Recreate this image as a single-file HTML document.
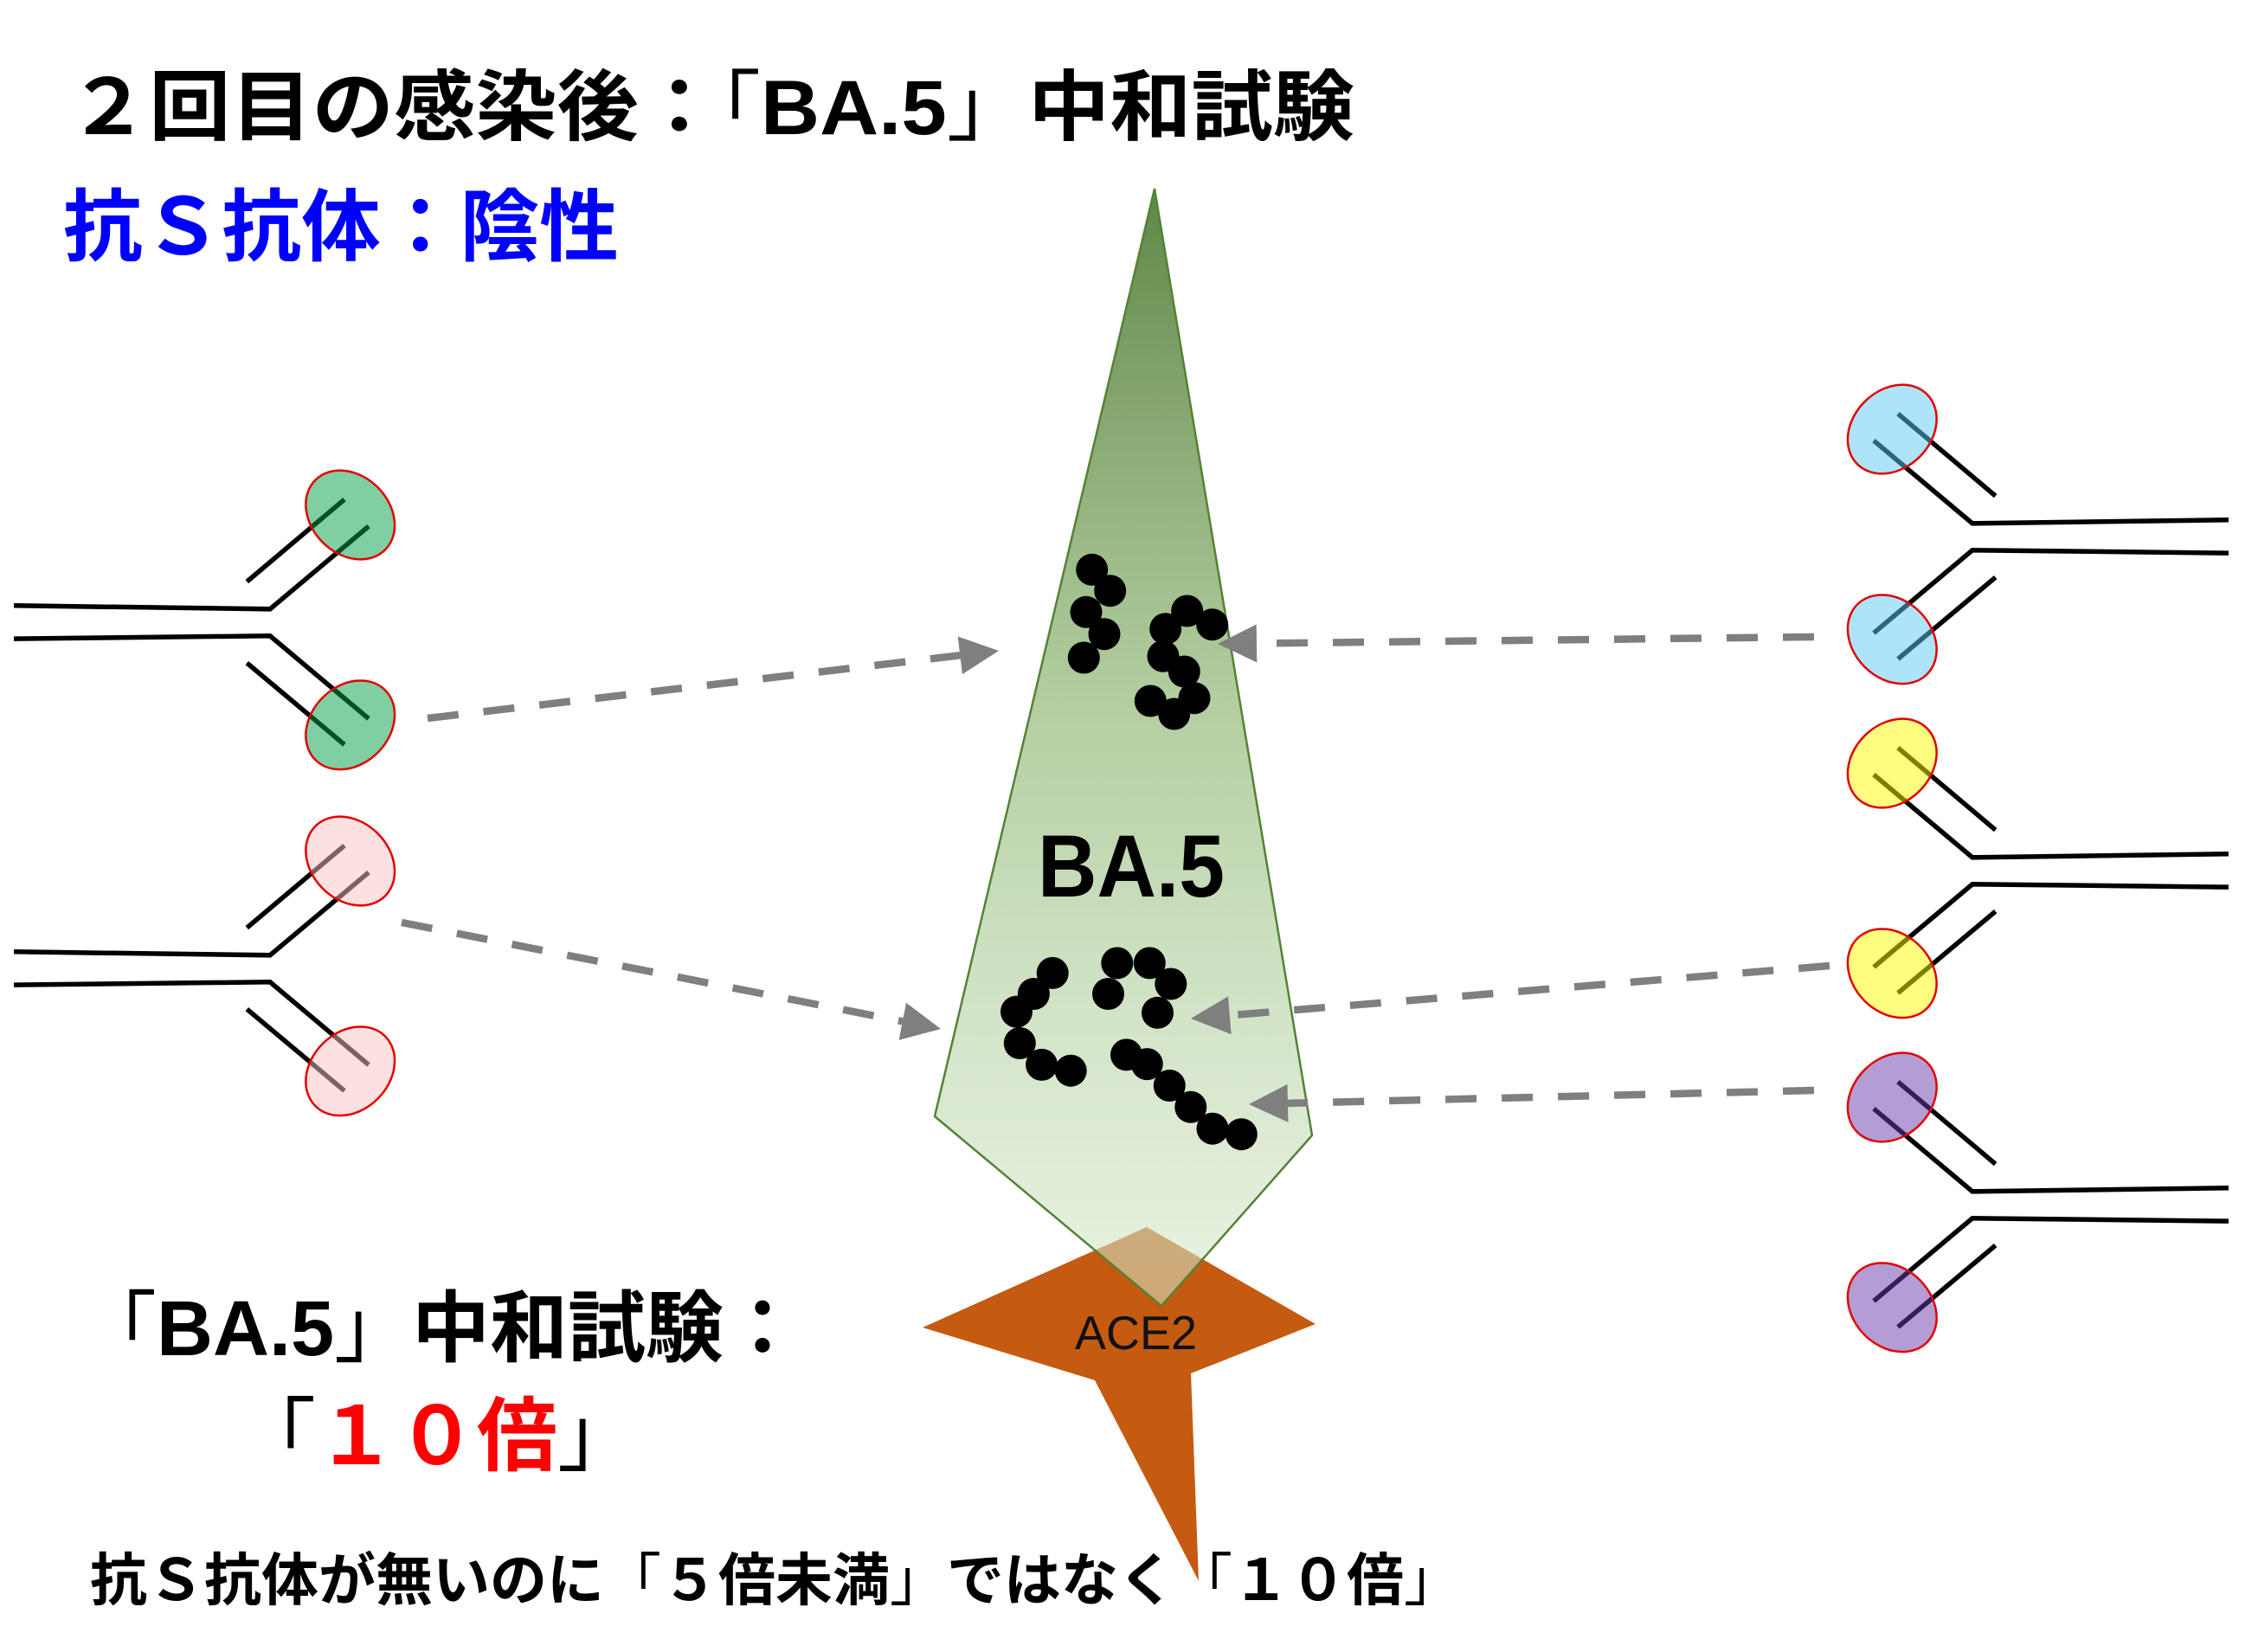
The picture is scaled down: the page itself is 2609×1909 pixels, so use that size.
<!DOCTYPE html>
<html>
<head>
<meta charset="utf-8">
<style>
html,body{margin:0;padding:0;background:#fff;}
svg{display:block;}
</style>
</head>
<body>
<svg width="2609" height="1909" viewBox="0 0 2609 1909" xmlns="http://www.w3.org/2000/svg">
<defs>
<linearGradient id="kg" gradientUnits="userSpaceOnUse" x1="0" y1="218" x2="0" y2="1509">
<stop offset="0" stop-color="#5f8748" stop-opacity="1"/>
<stop offset="0.45" stop-color="#a9c794" stop-opacity="0.9"/>
<stop offset="1" stop-color="#d6e8ca" stop-opacity="0.55"/>
</linearGradient>
</defs>
<rect width="2609" height="1909" fill="#fff"/>

<!-- Titles -->
<text x="78" y="155" font-family="'Liberation Sans','Noto Sans CJK JP',sans-serif" font-weight="bold" font-size="89" fill="#000" textLength="1487" lengthAdjust="spacingAndGlyphs">２回目の感染後：<tspan font-weight="normal">「</tspan>BA.5<tspan font-weight="normal">」</tspan>中和試験</text>
<text x="73" y="294" font-family="'Liberation Sans','Noto Sans CJK JP',sans-serif" font-weight="bold" font-size="91" fill="#0000ff" textLength="642" lengthAdjust="spacingAndGlyphs">抗Ｓ抗体：陰性</text>

<!-- Left antibodies -->
<g stroke="#000" stroke-width="5.5" fill="none" stroke-linejoin="miter">
<g transform="translate(0,595)">
<polyline points="16,104.8 312,108.8 426,13.1"/>
<line x1="398" y1="-17.9" x2="285.3" y2="77.1"/>
<polyline points="16,143.1 312,139.8 426,235.5"/>
<line x1="398" y1="265.5" x2="285.3" y2="171.1"/>
</g>
<g transform="translate(0,995)">
<polyline points="16,104.8 312,108.8 426,13.1"/>
<line x1="398" y1="-17.9" x2="285.3" y2="77.1"/>
<polyline points="16,143.1 312,139.8 426,235.5"/>
<line x1="398" y1="265.5" x2="285.3" y2="171.1"/>
</g>
</g>
<g stroke="#e30000" stroke-width="2.5">
<ellipse cx="0" cy="0" rx="57" ry="45" transform="translate(404.7,595) rotate(45)" fill="#00a048" fill-opacity="0.5"/>
<ellipse cx="0" cy="0" rx="57" ry="45" transform="translate(404.7,837.8) rotate(-45)" fill="#00a048" fill-opacity="0.5"/>
<ellipse cx="0" cy="0" rx="57" ry="45" transform="translate(404.7,995) rotate(45)" fill="#fbc1c1" fill-opacity="0.5"/>
<ellipse cx="0" cy="0" rx="57" ry="45" transform="translate(404.7,1237.8) rotate(-45)" fill="#fbc1c1" fill-opacity="0.5"/>
</g>

<!-- Right antibodies -->
<g stroke="#000" stroke-width="5.5" fill="none" stroke-linejoin="miter">
<g transform="translate(0,496)">
<polyline points="2575,104.8 2279,108.8 2165,13.1"/>
<line x1="2193" y1="-17.9" x2="2305.7" y2="77.1"/>
<polyline points="2575,143.1 2279,139.8 2165,235.5"/>
<line x1="2193" y1="265.5" x2="2305.7" y2="171.1"/>
</g>
<g transform="translate(0,882)">
<polyline points="2575,104.8 2279,108.8 2165,13.1"/>
<line x1="2193" y1="-17.9" x2="2305.7" y2="77.1"/>
<polyline points="2575,143.1 2279,139.8 2165,235.5"/>
<line x1="2193" y1="265.5" x2="2305.7" y2="171.1"/>
</g>
<g transform="translate(0,1268)">
<polyline points="2575,104.8 2279,108.8 2165,13.1"/>
<line x1="2193" y1="-17.9" x2="2305.7" y2="77.1"/>
<polyline points="2575,143.1 2279,139.8 2165,235.5"/>
<line x1="2193" y1="265.5" x2="2305.7" y2="171.1"/>
</g>
</g>
<g stroke="#e30000" stroke-width="2.5">
<ellipse cx="0" cy="0" rx="57" ry="45" transform="translate(2186.3,496) rotate(-45)" fill="#5dc9f5" fill-opacity="0.5"/>
<ellipse cx="0" cy="0" rx="57" ry="45" transform="translate(2186.3,738.8) rotate(45)" fill="#5dc9f5" fill-opacity="0.5"/>
<ellipse cx="0" cy="0" rx="57" ry="45" transform="translate(2186.3,882) rotate(-45)" fill="#fdfc00" fill-opacity="0.5"/>
<ellipse cx="0" cy="0" rx="57" ry="45" transform="translate(2186.3,1124.8) rotate(45)" fill="#fdfc00" fill-opacity="0.5"/>
<ellipse cx="0" cy="0" rx="57" ry="45" transform="translate(2186.3,1268) rotate(-45)" fill="#6939a9" fill-opacity="0.5"/>
<ellipse cx="0" cy="0" rx="57" ry="45" transform="translate(2186.3,1510.8) rotate(45)" fill="#6939a9" fill-opacity="0.5"/>
</g>

<!-- ACE2 -->
<polygon points="1325,1418 1520,1530 1376,1587 1385,1827 1265,1595 1066,1534" fill="#c55a11"/>

<!-- Kite (BA.5) -->
<polygon points="1334,218 1516,1312 1342,1509 1080,1290" fill="url(#kg)" stroke="#548235" stroke-width="2.5" stroke-linejoin="miter"/>

<!-- Dots -->
<g fill="#000">
<circle cx="1261.7" cy="658.3" r="18.5"/>
<circle cx="1282.7" cy="682.7" r="18.5"/>
<circle cx="1255" cy="707.3" r="18.5"/>
<circle cx="1276" cy="732.7" r="18.5"/>
<circle cx="1252.3" cy="760" r="18.5"/>

<circle cx="1371.7" cy="706" r="18.5"/>
<circle cx="1400.7" cy="721.7" r="18.5"/>
<circle cx="1346.7" cy="726.7" r="18.5"/>
<circle cx="1344" cy="758.3" r="18.5"/>
<circle cx="1368.3" cy="776" r="18.5"/>
<circle cx="1380" cy="806.7" r="18.5"/>
<circle cx="1329.3" cy="810" r="18.5"/>
<circle cx="1356.7" cy="825" r="18.5"/>

<circle cx="1216.2" cy="1124.4" r="18.5"/>
<circle cx="1194.4" cy="1148.5" r="18.5"/>
<circle cx="1174.5" cy="1169.1" r="18.5"/>
<circle cx="1178.3" cy="1205.5" r="18.5"/>
<circle cx="1203.6" cy="1230.4" r="18.5"/>
<circle cx="1237.2" cy="1237.2" r="18.5"/>

<circle cx="1290.8" cy="1112.9" r="18.5"/>
<circle cx="1328.3" cy="1112.9" r="18.5"/>
<circle cx="1352.8" cy="1137" r="18.5"/>
<circle cx="1280.5" cy="1148.5" r="18.5"/>
<circle cx="1337.5" cy="1170.3" r="18.5"/>

<circle cx="1301.5" cy="1218.9" r="18.5"/>
<circle cx="1325.3" cy="1229.6" r="18.5"/>
<circle cx="1351.3" cy="1254.5" r="18.5"/>
<circle cx="1375.8" cy="1279.3" r="18.5"/>
<circle cx="1401" cy="1304.2" r="18.5"/>
<circle cx="1434.3" cy="1310.7" r="18.5"/>
</g>

<!-- Labels in shapes -->
<text x="1199" y="1036" font-family="'Liberation Sans',sans-serif" font-weight="bold" font-size="102" fill="#000" textLength="216" lengthAdjust="spacingAndGlyphs">BA.5</text>
<text x="1242" y="1559" font-family="'Liberation Sans',sans-serif" font-size="55" fill="#111" textLength="141" lengthAdjust="spacingAndGlyphs">ACE2</text>

<!-- Dashed arrows -->
<g stroke="#7f7f7f" stroke-width="8.5" stroke-dasharray="36 29" fill="none">
<line x1="494" y1="830" x2="1109.3" y2="757.3"/>
<line x1="464" y1="1066" x2="1042.9" y2="1180.3"/>
<line x1="2096" y1="736" x2="1452" y2="743.5"/>
<line x1="2114" y1="1116" x2="1420.9" y2="1173.3"/>
<line x1="2096" y1="1260" x2="1488" y2="1274.9"/>
</g>
<g fill="#7f7f7f">
<polygon points="1154,752 1111.9,779.1 1106.7,735.5"/>
<polygon points="1087,1189 1038.6,1201.9 1047.1,1158.7"/>
<polygon points="1407,744 1451.7,721.5 1452.3,765.5"/>
<polygon points="1376,1177 1419.0,1151.4 1422.7,1195.2"/>
<polygon points="1443,1276 1487.5,1252.9 1488.5,1296.9"/>
</g>

<!-- Bottom texts -->
<text x="91" y="1566" font-family="'Liberation Sans','Noto Sans CJK JP',sans-serif" font-weight="bold" font-size="90" fill="#000" textLength="835" lengthAdjust="spacingAndGlyphs"><tspan font-weight="normal">「</tspan>BA.5<tspan font-weight="normal">」</tspan>中和試験：</text>
<text x="272" y="1692" font-family="'Liberation Sans','Noto Sans CJK JP',sans-serif" font-weight="bold" font-size="93" fill="#000" textLength="465" lengthAdjust="spacingAndGlyphs"><tspan font-weight="normal">「</tspan><tspan fill="#ff0000">１０倍</tspan><tspan font-weight="normal">」</tspan></text>
<text x="104" y="1849" font-family="'Liberation Sans','Noto Sans CJK JP',sans-serif" font-weight="bold" font-size="66" fill="#000" textLength="1584" lengthAdjust="spacingAndGlyphs">抗Ｓ抗体が無いのに<tspan font-weight="normal">「</tspan>５倍未満<tspan font-weight="normal">」</tspan>ではなく<tspan font-weight="normal">「</tspan>１０倍<tspan font-weight="normal">」</tspan></text>
</svg>
</body>
</html>
